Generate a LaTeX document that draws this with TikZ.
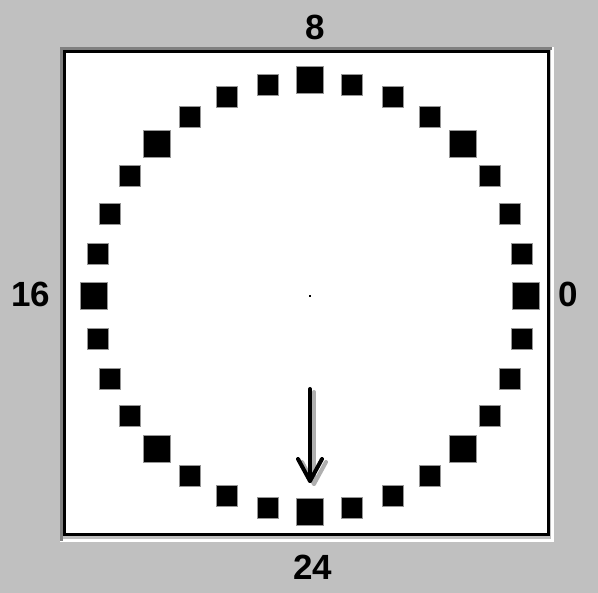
\documentclass[tikz,border=0pt]{standalone}
\usepackage{fontspec}
\setmainfont{Liberation Sans}
\definecolor{bg}{RGB}{192,192,192}
\definecolor{dgray}{RGB}{128,128,128}
\definecolor{halo}{RGB}{150,150,150}
\definecolor{shadowc}{RGB}{175,175,175}
\tikzset{
  sq/.style={fill=black, draw=halo, line width=1pt, inner sep=0pt, outer sep=0pt},
  lbl/.style={inner sep=0pt, anchor=base, font=\fontsize{35}{35}\selectfont\bfseries},
  arrowline/.style={line width=4pt, line cap=round, line join=round},
}
\begin{document}
\begin{tikzpicture}[x=1pt, y=-1pt]
  % background
  \fill[bg] (0,0) rectangle (598,593);
  \useasboundingbox (0,0) rectangle (598,593);
  % sunken frame
  \fill[white] (60,47) rectangle (554,542);
  \fill[bg] (60,47) rectangle (551,539);
  \fill[dgray] (60,47) rectangle (63,541);
  \fill[dgray] (60,47) rectangle (552,50);
  \fill[black] (63,50) rectangle (550,536);
  \fill[white] (66,53) rectangle (547,533);
  % centre
  \coordinate (c) at (310,296.5);
  \fill[black] (308.5,295.5) rectangle (310.5,297.5);
  % squares
  \foreach \k in {0,...,31} {
    \pgfmathsetmacro{\ang}{\k*11.25}
    \pgfmathtruncatemacro{\big}{mod(\k,4)==0 ? 1 : 0}
    \ifnum\big=1
      \node[sq, minimum size=27pt] (s\k) at ([shift={(-\ang:216)}]c) {};
    \else
      \node[sq, minimum size=21pt] (s\k) at ([shift={(-\ang:216)}]c) {};
    \fi
  }
  % labels
  \node[lbl] (l8) at (315,40) {8};
  \node[lbl] (l0) at (568,307) {0};
  \node[lbl] (l16) at (31,307) {16};
  \node[lbl] (l24) at (313,580) {24};
  % arrow
  \coordinate (ar0) at (310,389);
  \coordinate (ar1) at (310,481);
  \coordinate (sh0) at (314,392);
  \coordinate (sh1) at (314,484);
  \draw[arrowline, shadowc] (sh0) -- (sh1);
  \draw[arrowline, shadowc] ([shift={(-12,-22)}]sh1) -- (sh1) -- ([shift={(12,-22)}]sh1);
  \draw[arrowline] (ar0) -- (ar1);
  \draw[arrowline] ([shift={(-12,-22)}]ar1) -- (ar1) -- ([shift={(12,-22)}]ar1);
\end{tikzpicture}
\end{document}
